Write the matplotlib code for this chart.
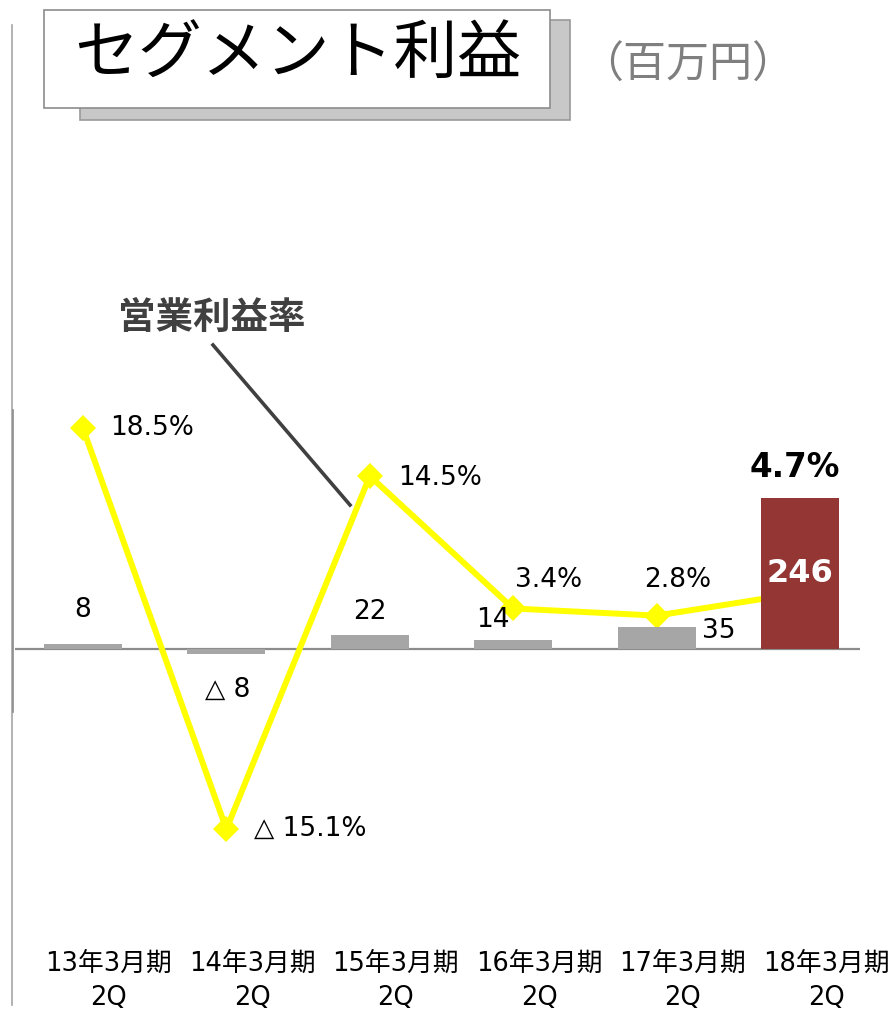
import matplotlib
matplotlib.use('Agg')
import matplotlib.pyplot as plt
from matplotlib.patches import Rectangle
from matplotlib.lines import Line2D
from matplotlib.transforms import ScaledTranslation

plt.rcParams['font.family'] = ['DejaVu Sans', 'Noto Sans CJK JP']

categories = ['13年3月期\n2Q', '14年3月期\n2Q', '15年3月期\n2Q',
              '16年3月期\n2Q', '17年3月期\n2Q', '18年3月期\n2Q']
profit = [8, -8, 22, 14, 35, 246]
profit_labels = ['8', '△ 8', '22', '14', '35', '246']
margin = [18.5, -15.1, 14.5, 3.4, 2.8, 4.7]
margin_labels = ['18.5%', '△ 15.1%', '14.5%', '3.4%', '2.8%', '4.7%']

W, H = 895, 1014
fig = plt.figure(figsize=(W / 100, H / 100), dpi=100)

def fx(px):
    return px / W

def fy(py):
    return 1 - py / H

# axes: line (percent) underneath, bars on twin above it
ax = fig.add_axes([fx(15), fy(940), fx(860) - fx(15), fy(140) - fy(940)])
ax2 = ax.twinx()
x = list(range(len(categories)))

ax.set_xlim(-0.474, 5.418)
ax.set_ylim(-24.39, 42.67)
ax2.set_ylim(-473.2, 827.6)

ax.axhline(0, color='#8c8c8c', lw=1.6, zorder=1)
ax.plot(x, margin, color='#ffff00', lw=4.3, marker='D', markersize=13,
        markeredgewidth=0, zorder=3)

bar_colors = ['#a6a6a6'] * 5 + ['#943634']
ax2.bar(x, profit, width=0.545, color=bar_colors, edgecolor='none', zorder=2)

for a in (ax, ax2):
    for s in a.spines.values():
        s.set_visible(False)
    a.set_yticks([])
ax2.patch.set_visible(False)

ax.set_xticks(x)
ax.set_xticklabels(categories, fontsize=18.5, linespacing=1.4)
ax.tick_params(axis='x', length=0, pad=8)
for lab in ax.get_xticklabels():
    lab.set_transform(lab.get_transform() + ScaledTranslation(0.26, 0, fig.dpi_scale_trans))

# bar value labels (offsets in pixels)
bar_off = [(0, 34), (1, -36), (0, 23), (-20, 20), (62, -4)]
for i in range(5):
    ax2.annotate(profit_labels[i], (x[i], profit[i]), xytext=bar_off[i],
                 textcoords='offset pixels', ha='center', va='center', fontsize=19)
ax2.text(x[5], profit[5] / 2, profit_labels[5], ha='center', va='center',
         fontsize=23, fontweight='bold', color='white')

# margin labels
ax.annotate(margin_labels[0], (x[0], margin[0]), xytext=(27, 0), textcoords='offset pixels',
            ha='left', va='center', fontsize=19)
ax.annotate(margin_labels[1], (x[1], margin[1]), xytext=(28, 0), textcoords='offset pixels',
            ha='left', va='center', fontsize=19)
ax.annotate(margin_labels[2], (x[2], margin[2]), xytext=(28, -2), textcoords='offset pixels',
            ha='left', va='center', fontsize=19)
ax.annotate(margin_labels[3], (x[3], margin[3]), xytext=(35, 28), textcoords='offset pixels',
            ha='center', va='center', fontsize=19)
ax.annotate(margin_labels[4], (x[4], margin[4]), xytext=(21, 36), textcoords='offset pixels',
            ha='center', va='center', fontsize=19)
ax.annotate(margin_labels[5], (x[5], margin[5]), xytext=(-5, 125), textcoords='offset pixels',
            ha='center', va='center', fontsize=23.5, fontweight='bold')

# title box with shadow
fig.patches.append(Rectangle((fx(80), fy(120)), fx(570) - fx(80), fy(20) - fy(120),
                             transform=fig.transFigure, facecolor='#c8c8c8',
                             edgecolor='#9a9a9a', lw=1.2, zorder=0))
fig.patches.append(Rectangle((fx(44), fy(108)), fx(550) - fx(44), fy(10) - fy(108),
                             transform=fig.transFigure, facecolor='white',
                             edgecolor='#8c8c8c', lw=1.2, zorder=1))
fig.text(fx(298), fy(55), 'セグメント利益', ha='center', va='center',
         fontsize=46, family='Noto Sans CJK JP', zorder=2)
fig.text(fx(688), fy(66), '（百万円）', ha='center', va='center',
         fontsize=31, color='#7f7f7f', family='Noto Sans CJK JP')

# series callout
fig.text(fx(212), fy(317), '営業利益率', ha='center', va='center', fontsize=27,
         fontweight='bold', color='#404040', family='Noto Sans CJK JP')
fig.lines.append(Line2D([fx(213), fx(350)], [fy(345), fy(505)], transform=fig.transFigure,
                        color='#404040', lw=2.6))

# left edge rules
fig.lines.append(Line2D([fx(12), fx(12)], [fy(25), fy(1005)], transform=fig.transFigure,
                        color='#a6a6a6', lw=1.2))
fig.lines.append(Line2D([fx(13), fx(13)], [fy(410), fy(712)], transform=fig.transFigure,
                        color='#8c8c8c', lw=1.2))

fig.savefig('out.png', dpi=100)
